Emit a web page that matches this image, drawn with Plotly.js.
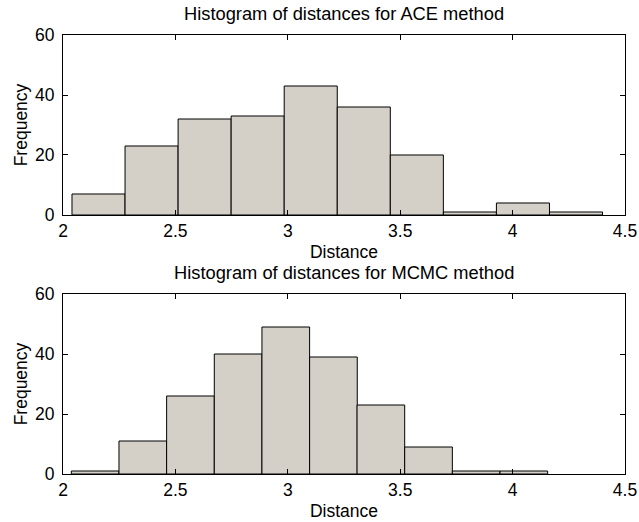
<!DOCTYPE html>
<html>
<head>
<meta charset="utf-8">
<script src="https://cdn.plot.ly/plotly-3.0.1.min.js"></script>
<style>html,body{margin:0;padding:0;background:#fff;}#chart{width:639px;height:522px;}</style>
</head>
<body>
<div id="chart"></div>
<script>
// ACE method histogram
const aceBinCenters = [2.158, 2.394, 2.630, 2.866, 3.102, 3.338, 3.574, 3.810, 4.046, 4.282];
const aceCounts = [7, 23, 32, 33, 43, 36, 20, 1, 4, 1];
// MCMC method histogram
const mcmcBinCenters = [2.143, 2.355, 2.567, 2.779, 2.991, 3.203, 3.414, 3.626, 3.838, 4.050];
const mcmcCounts = [1, 11, 26, 40, 49, 39, 23, 9, 1, 1];

const titles = ["Histogram of distances for ACE method", "Histogram of distances for MCMC method"];
const xTickVals = [2, 2.5, 3, 3.5, 4, 4.5];
const xTickText = ["2", "2.5", "3", "3.5", "4", "4.5"];
const yTickVals = [0, 20, 40, 60];
const yTickText = ["0", "20", "40", "60"];

const FONT = "Liberation Sans, Arial, Helvetica, sans-serif";
const FS = 17.5;
const FT = 18.3;
const fill = "rgb(212,208,200)";

function binWidth(c) { return c[1] - c[0]; }

const traces = [
  {type: "bar", x: aceBinCenters, y: aceCounts, width: binWidth(aceBinCenters),
   marker: {color: fill, line: {color: "black", width: 1}}, xaxis: "x", yaxis: "y", hoverinfo: "none"},
  {type: "bar", x: mcmcBinCenters, y: mcmcCounts, width: binWidth(mcmcBinCenters),
   marker: {color: fill, line: {color: "black", width: 1}}, xaxis: "x2", yaxis: "y2", hoverinfo: "none"}
];

function xax(anchor) {
  return {anchor: anchor, range: [2, 4.5], tickvals: xTickVals, ticktext: xTickText,
    ticks: "inside", ticklen: 5, tickcolor: "black", mirror: "ticks", showline: true,
    linecolor: "black", linewidth: 1, showgrid: false, zeroline: false,
    tickfont: {family: FONT, size: FS, color: "black"},
    title: {text: "Distance", font: {family: FONT, size: FS, color: "black"}, standoff: 5}};
}
function yax(anchor, domain) {
  return {anchor: anchor, domain: domain, range: [0, 60], tickvals: yTickVals, ticktext: yTickText,
    ticks: "inside", ticklen: 5, tickcolor: "black", mirror: "ticks", showline: true,
    linecolor: "black", linewidth: 1, showgrid: false, zeroline: false, ticklabelstandoff: 4,
    tickfont: {family: FONT, size: FS, color: "black"},
    title: {text: "Frequency", font: {family: FONT, size: FS, color: "black"}, standoff: 2}};
}

const layout = {
  width: 639, height: 522,
  margin: {l: 63, r: 14, t: 35, b: 48},
  paper_bgcolor: "white", plot_bgcolor: "white",
  showlegend: false, bargap: 0,
  xaxis: xax("y"), yaxis: yax("x", [0.59, 1]),
  xaxis2: xax("y2"), yaxis2: yax("x2", [0, 0.41]),
  annotations: [
    {text: titles[0], xref: "paper", yref: "paper", x: 0.5, y: 1, yanchor: "bottom", yshift: 9,
     showarrow: false, font: {family: FONT, size: FT, color: "black"}},
    {text: titles[1], xref: "paper", yref: "paper", x: 0.5, y: 0.41, yanchor: "bottom", yshift: 9,
     showarrow: false, font: {family: FONT, size: FT, color: "black"}}
  ]
};

Plotly.newPlot("chart", traces, layout, {displayModeBar: false, staticPlot: true});
</script>
</body>
</html>
